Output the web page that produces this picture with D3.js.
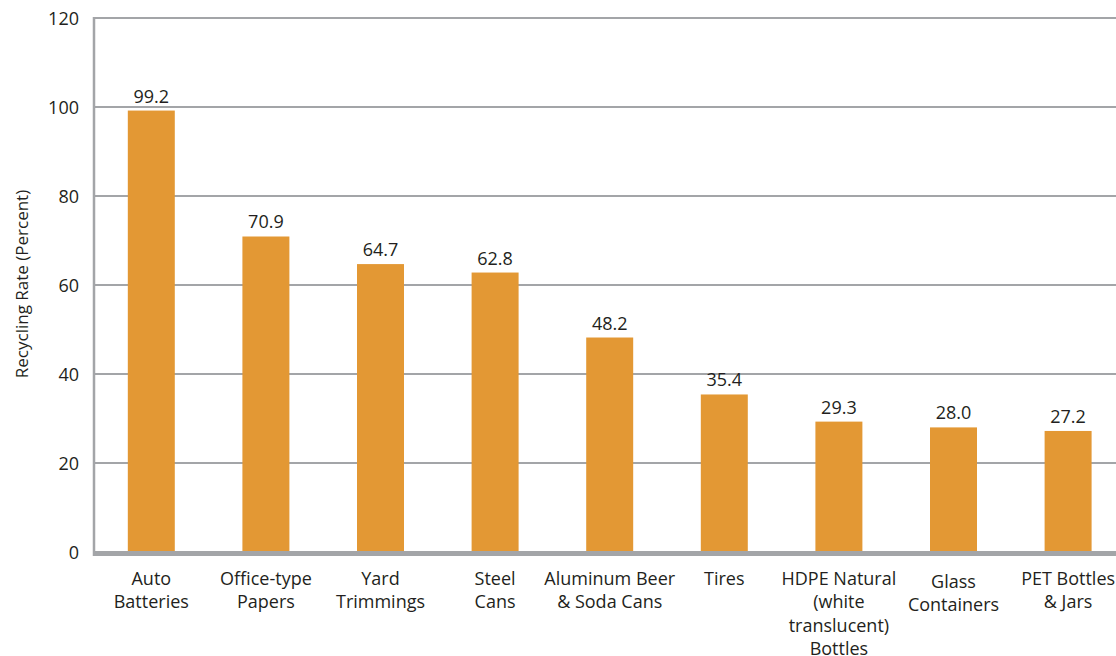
<!DOCTYPE html>
<html><head><meta charset="utf-8">
<script src="https://cdn.jsdelivr.net/npm/d3@7"></script>
<style>body{margin:0;background:#fff}svg{display:block}text{font-family:"Open Sans","Noto Sans",sans-serif;fill:#231f20}</style>
</head><body><svg id="c" width="1116" height="656"></svg>
<script>
const categories = [["Auto","Batteries"],["Office-type","Papers"],["Yard","Trimmings"],["Steel","Cans"],["Aluminum Beer","& Soda Cans"],["Tires"],["HDPE Natural","(white","translucent)","Bottles"],["Glass","Containers"],["PET Bottles","& Jars"]];
const values = [99.2,70.9,64.7,62.8,48.2,35.4,29.3,28.0,27.2];
const yTicks = [0,20,40,60,80,100,120];
const yLabel = "Recycling Rate (Percent)";

const svg = d3.select("#c");
const pLeft = 94, pRight = 94 + 9*114.6, pTop = 18, pBottom = 552;
const x = d3.scaleBand().domain(d3.range(values.length)).range([pLeft, pRight]).paddingInner(0.59).paddingOuter(0.295);
const y = d3.scaleLinear().domain([0,120]).range([pBottom, pTop]);

// gridlines
svg.append("g").selectAll("line").data(yTicks.filter(d=>d>0)).join("line")
  .attr("x1", pLeft).attr("x2", 1116).attr("y1", d=>y(d)).attr("y2", d=>y(d))
  .attr("stroke", "#a3a5a8").attr("stroke-width", 2);
// y axis line
svg.append("line").attr("x1", pLeft).attr("x2", pLeft).attr("y1", pTop-1).attr("y2", pBottom+4)
  .attr("stroke", "#a3a5a8").attr("stroke-width", 2.5);

// bars
svg.append("g").selectAll("rect").data(values).join("rect")
  .attr("x", (d,i)=>x(i)).attr("width", x.bandwidth())
  .attr("y", d=>y(d)).attr("height", d=>y(0)-y(d))
  .attr("fill", "#e39834");

// baseline
svg.append("line").attr("x1", pLeft-1).attr("x2", 1116).attr("y1", y(0)+1.5).attr("y2", y(0)+1.5)
  .attr("stroke", "#a3a5a8").attr("stroke-width", 5);

// value labels
svg.append("g").selectAll("text").data(values).join("text")
  .attr("x", (d,i)=>x(i)+x.bandwidth()/2).attr("y", d=>y(d)-8)
  .attr("text-anchor","middle").attr("font-size", 18).text(d=>d.toFixed(1));

// y tick labels
svg.append("g").selectAll("text").data(yTicks).join("text")
  .attr("x", 79).attr("y", d=>y(d)+7).attr("text-anchor","end").attr("font-size", 18).text(d=>d);

// y axis label
svg.append("text").attr("transform", `translate(28,284) rotate(-90)`)
  .attr("text-anchor","middle").attr("font-size", 17).text(yLabel);

// x labels
const xl = svg.append("g").selectAll("text").data(categories).join("text")
  .attr("text-anchor","middle").attr("font-size", 18)
  .attr("transform", (d,i)=>`translate(${x(i)+x.bandwidth()/2},${i===7?588:585})`);
xl.selectAll("tspan").data(d=>d).join("tspan").attr("x",0).attr("dy",(d,j)=>j===0?0:23.3).text(d=>d);
</script></body></html>
